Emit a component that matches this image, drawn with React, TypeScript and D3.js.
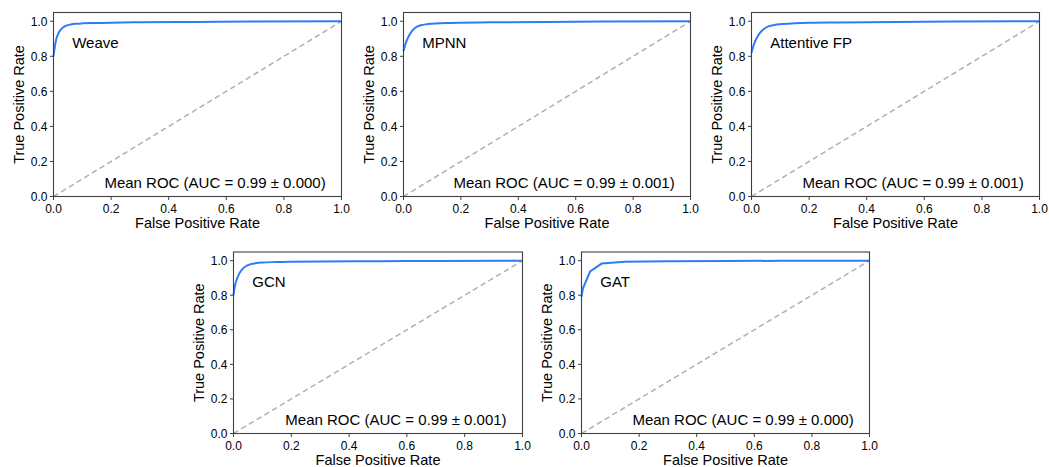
import React from "react";
import * as d3 from "d3";

const modelNames = ["Weave", "MPNN", "Attentive FP", "GCN", "GAT"];
const aucText = [
  "Mean ROC (AUC = 0.99 ± 0.000)",
  "Mean ROC (AUC = 0.99 ± 0.001)",
  "Mean ROC (AUC = 0.99 ± 0.001)",
  "Mean ROC (AUC = 0.99 ± 0.001)",
  "Mean ROC (AUC = 0.99 ± 0.000)",
];

const weaveFpr = [0, 0.005, 0.01, 0.02, 0.03, 0.04, 0.06, 0.08, 0.1, 0.15, 0.2, 0.3, 0.5, 0.7, 1.0];
const weaveTpr = [0.8, 0.86, 0.9, 0.94, 0.96, 0.972, 0.982, 0.986, 0.988, 0.99, 0.992, 0.994, 0.996, 0.998, 1.0];

const mpnnFpr = [0, 0.005, 0.01, 0.02, 0.03, 0.04, 0.06, 0.08, 0.1, 0.15, 0.2, 0.3, 0.5, 0.7, 1.0];
const mpnnTpr = [0.83, 0.86, 0.885, 0.92, 0.945, 0.962, 0.977, 0.983, 0.986, 0.99, 0.992, 0.994, 0.996, 0.998, 1.0];

const attFpr = [0, 0.005, 0.01, 0.02, 0.03, 0.04, 0.06, 0.08, 0.1, 0.15, 0.2, 0.3, 0.5, 0.7, 1.0];
const attTpr = [0.82, 0.85, 0.875, 0.91, 0.935, 0.952, 0.972, 0.979, 0.983, 0.988, 0.991, 0.993, 0.996, 0.998, 1.0];

const gcnFpr = [0, 0.005, 0.01, 0.02, 0.03, 0.04, 0.06, 0.08, 0.1, 0.15, 0.2, 0.3, 0.5, 0.7, 1.0];
const gcnTpr = [0.8, 0.855, 0.885, 0.925, 0.95, 0.965, 0.98, 0.986, 0.989, 0.992, 0.994, 0.995, 0.997, 0.998, 1.0];

const gatFpr = [0, 0.005, 0.03, 0.07, 0.15, 0.3, 0.5, 0.7, 1.0];
const gatTpr = [0.79, 0.84, 0.937, 0.983, 0.993, 0.996, 0.998, 0.999, 1.0];

const fprSeries = [weaveFpr, mpnnFpr, attFpr, gcnFpr, gatFpr];
const tprSeries = [weaveTpr, mpnnTpr, attTpr, gcnTpr, gatTpr];
const tickValues = [0, 0.2, 0.4, 0.6, 0.8, 1.0];

// layout (pixel positions of each panel's axes box)
const panelLayout = [
  { left: 53.5, right: 341.5, top: 12.5, bottom: 196.5 },
  { left: 403.5, right: 690.5, top: 12.5, bottom: 196.5 },
  { left: 751.5, right: 1039.5, top: 12.5, bottom: 196.5 },
  { left: 233.5, right: 522.5, top: 252, bottom: 433.5 },
  { left: 581.5, right: 869.5, top: 252, bottom: 433.5 },
];

const FONT = "Liberation Sans, Arial, sans-serif";
const BLUE = "#2f7df6";

function Panel({ i }: { i: number }) {
  const L = panelLayout[i];
  const x = d3.scaleLinear().domain([0, 1]).range([L.left, L.right]);
  const y = d3.scaleLinear().domain([0, 1.05]).range([L.bottom, L.top]);
  const pts: [number, number][] = fprSeries[i].map((f, k) => [f, tprSeries[i][k]]);
  const line = d3
    .line<[number, number]>()
    .x((d) => x(d[0]))
    .y((d) => y(d[1]))
    .curve(d3.curveMonotoneX);
  const isGat = i === 4;
  const path = isGat
    ? d3.line<[number, number]>().x((d) => x(d[0])).y((d) => y(d[1]))(pts)
    : line(pts);
  return (
    <g fontFamily={FONT} fill="#000">
      <line x1={x(0)} y1={y(0)} x2={x(1)} y2={y(1)} stroke="#b0b0b0" strokeWidth={1.5} strokeDasharray="5.5,3.5" />
      <path d={path || ""} fill="none" stroke={BLUE} strokeWidth={2} />
      <rect x={L.left} y={L.top} width={L.right - L.left} height={L.bottom - L.top} fill="none" stroke="#404040" strokeWidth={1.1} />
      {tickValues.map((t) => (
        <g key={"x" + t}>
          <line x1={x(t)} x2={x(t)} y1={L.bottom} y2={L.bottom + 3.5} stroke="#404040" strokeWidth={1} />
          <text x={x(t)} y={L.bottom + 16} fontSize={12} textAnchor="middle">{t.toFixed(1)}</text>
        </g>
      ))}
      {tickValues.map((t) => (
        <g key={"y" + t}>
          <line x1={L.left - 3.5} x2={L.left} y1={y(t)} y2={y(t)} stroke="#404040" strokeWidth={1} />
          <text x={L.left - 6} y={y(t) + 4.3} fontSize={12} textAnchor="end">{t.toFixed(1)}</text>
        </g>
      ))}
      <text x={(L.left + L.right) / 2} y={L.bottom + 31} fontSize={14.5} textAnchor="middle">False Positive Rate</text>
      <text
        transform={`translate(${L.left - 30},${(L.top + L.bottom) / 2}) rotate(-90)`}
        fontSize={14.5}
        textAnchor="middle"
      >True Positive Rate</text>
      <text x={x(0.065)} y={y(0.85)} fontSize={15}>{modelNames[i]}</text>
      <text x={x(0.945)} y={y(0.048)} fontSize={15} textAnchor="end">{aucText[i]}</text>
    </g>
  );
}

export default function App() {
  return (
    <svg width={1049} height={467} style={{ display: "block", position: "absolute", left: 0, top: 0 }}>
      <rect width={1049} height={467} fill="#fff" />
      {modelNames.map((_, i) => (
        <Panel key={i} i={i} />
      ))}
    </svg>
  );
}
